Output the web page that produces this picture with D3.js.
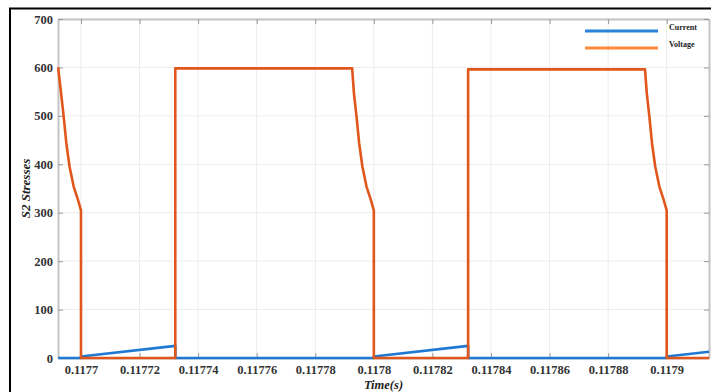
<!DOCTYPE html>
<html lang="en">
<head>
<meta charset="utf-8"/>
<title>S2 Stresses</title>
<script src="https://cdn.jsdelivr.net/npm/d3@7"></script>
<style>
  body { margin: 0; background: #fff; }
  svg { display: block; }
  .tick text { font-family: "Liberation Serif", serif; font-weight: bold; font-size: 12.5px; fill: #333; }
</style>
</head>
<body>
<svg id="chart"></svg>
<script>
// tick values / labels
const xTicks = [0.1177, 0.11772, 0.11774, 0.11776, 0.11778, 0.1178, 0.11782, 0.11784, 0.11786, 0.11788, 0.1179]
const xTickLabels = ['0.1177', '0.11772', '0.11774', '0.11776', '0.11778', '0.1178', '0.11782', '0.11784', '0.11786', '0.11788', '0.1179']
const yTicks = [0, 100, 200, 300, 400, 500, 600, 700]

// voltage trace (time, value)
const voltT = [
  0.1176922, 0.1176932, 0.1176941, 0.1176950, 0.1176961, 0.1176975, 0.1176990, 0.1176998, 0.1177000, 0.1177000,
  0.1177322, 0.1177322,
  0.1177926, 0.1177932, 0.1177941, 0.1177950, 0.1177961, 0.1177975, 0.1177990, 0.1177998, 0.1178000, 0.1178000,
  0.1178322, 0.1178322,
  0.1178926, 0.1178932, 0.1178941, 0.1178950, 0.1178961, 0.1178975, 0.1178990, 0.1178998, 0.1179000, 0.1179000,
  0.1179145]
const voltV = [
  600, 547, 498, 443, 395, 354, 326, 309, 305, 0,
  0, 598,
  598, 547, 498, 443, 395, 354, 326, 309, 305, 0,
  0, 596,
  596, 547, 498, 443, 395, 354, 326, 309, 305, 0,
  0]

// current trace (time, value)
const currT = [0.1176922, 0.1177000, 0.1177000, 0.1177322, 0.1177322, 0.1178000, 0.1178000, 0.1178322, 0.1178322, 0.1179000, 0.1179000, 0.1179145]
const currV = [0, 0, 3, 25, 0, 0, 3, 25, 0, 0, 3, 13]

const series = [
  {name: 'Current', t: currT, v: currV, color: '#1f78d1', legendColor: '#2a82db'},
  {name: 'Voltage', t: voltT, v: voltV, color: '#e0561b', legendColor: '#fb8a3c'}
]

const width = 711
const height = 392
const margin = {top: 19, right: 2, bottom: 34, left: 58}

const svg = d3.select('#chart')
  .attr('width', width)
  .attr('height', height)

// outer black frame (left + top edges visible)
svg.append('path')
  .attr('d', `M10,${height} L10,8.5 L${width},8.5`)
  .attr('fill', 'none')
  .attr('stroke', '#000')
  .attr('stroke-width', 2)

const x = d3.scaleLinear()
  .domain([0.11769215, 0.11791445])
  .range([margin.left, width - margin.right])

const y = d3.scaleLinear()
  .domain([0, 700])
  .range([height - margin.bottom, margin.top])

const x0 = margin.left, x1 = width - margin.right
const y0 = height - margin.bottom, y1 = margin.top

// grid
const grid = svg.append('g')
grid.selectAll('.gx')
  .data(xTicks)
  .enter()
  .append('line')
  .attr('x1', d => x(d)).attr('x2', d => x(d))
  .attr('y1', y0).attr('y2', y1)
  .attr('stroke', '#ececec')
grid.selectAll('.gy')
  .data(yTicks)
  .enter()
  .append('line')
  .attr('x1', x0).attr('x2', x1)
  .attr('y1', d => y(d)).attr('y2', d => y(d))
  .attr('stroke', '#ececec')

// axes
const axisColor = '#c4c4c4'
const xAxis = svg.append('g')
  .attr('transform', `translate(0,${y0})`)
  .call(d3.axisBottom(x).tickValues(xTicks).tickFormat((d, i) => xTickLabels[i]).tickSizeInner(-5).tickSizeOuter(0).tickPadding(7))
const xAxisTop = svg.append('g')
  .attr('transform', `translate(0,${y1})`)
  .call(d3.axisTop(x).tickValues(xTicks).tickFormat('').tickSizeInner(-5).tickSizeOuter(0))
const yAxis = svg.append('g')
  .attr('transform', `translate(${x0},0)`)
  .call(d3.axisLeft(y).tickValues(yTicks).tickSizeInner(-5).tickSizeOuter(0).tickPadding(5))
const yAxisRight = svg.append('g')
  .attr('transform', `translate(${x1},0)`)
  .call(d3.axisRight(y).tickValues(yTicks).tickFormat('').tickSizeInner(-5).tickSizeOuter(0))

for (const a of [xAxis, xAxisTop, yAxis, yAxisRight]) {
  a.select('.domain').attr('stroke', axisColor).attr('stroke-width', 2)
  a.selectAll('.tick line').attr('stroke', '#999')
}

// traces
const line = d3.line()
  .x(d => x(d[0]))
  .y(d => y(d[1]))

const plot = svg.append('g')
for (const s of series) {
  plot.append('path')
    .datum(s.t.map((t, i) => [t, s.v[i]]))
    .attr('d', line)
    .attr('fill', 'none')
    .attr('stroke', s.color)
    .attr('stroke-width', 2.6)
    .attr('stroke-linejoin', 'round')
}

// legend
const legend = svg.append('g')
series.forEach((s, i) => {
  const ly = 31 + i * 17
  legend.append('line')
    .attr('x1', 585).attr('x2', 658)
    .attr('y1', ly).attr('y2', ly)
    .attr('stroke', s.legendColor)
    .attr('stroke-width', 3)
  legend.append('text')
    .attr('x', 669)
    .attr('y', ly - 1)
    .style('font-family', '"Liberation Serif", serif')
    .style('font-weight', 'bold')
    .style('font-size', '8px')
    .attr('fill', '#222')
    .text(s.name)
})

// axis labels
svg.append('text')
  .attr('transform', `translate(30,${(y0 + y1) / 2}) rotate(-90)`)
  .attr('text-anchor', 'middle')
  .style('font-family', '"Liberation Serif", serif')
  .style('font-weight', 'bold')
  .style('font-style', 'italic')
  .style('font-size', '13px')
  .attr('fill', '#222')
  .text('S2 Stresses')

svg.append('text')
  .attr('x', (x0 + x1) / 2)
  .attr('y', 389)
  .attr('text-anchor', 'middle')
  .style('font-family', '"Liberation Serif", serif')
  .style('font-weight', 'bold')
  .style('font-style', 'italic')
  .style('font-size', '12.5px')
  .attr('fill', '#222')
  .text('Time(s)')
</script>
</body>
</html>
